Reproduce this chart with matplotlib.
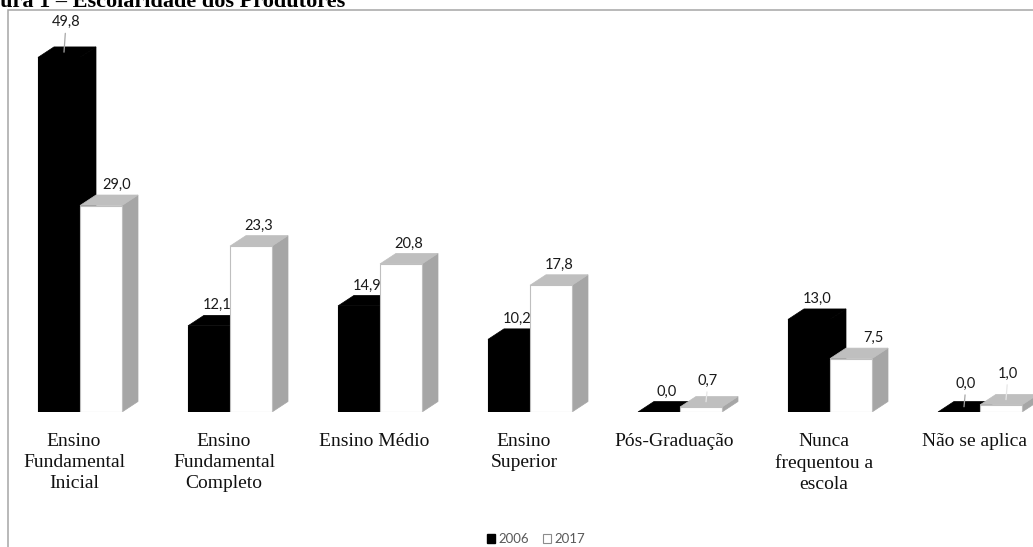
import matplotlib.pyplot as plt
from matplotlib.patches import Polygon, Rectangle, Patch
import numpy as np

categories = ["Ensino\nFundamental\nInicial", "Ensino\nFundamental\nCompleto", "Ensino Médio",
              "Ensino\nSuperior", "Pós-Graduação", "Nunca\nfrequentou a\nescola", "Não se aplica"]
values_2006 = [49.8, 12.1, 14.9, 10.2, 0.0, 13.0, 0.0]
values_2017 = [29.0, 23.3, 20.8, 17.8, 0.7, 7.5, 1.0]
series_names = ["2006", "2017"]

W, H = 1033, 547
fig = plt.figure(figsize=(W / 100, H / 100), dpi=100)

# axes mapped so one category = 150 px, 1 unit of value = 7.12 px
px_per_cat = 150.0
px_per_val = 7.12
base_px = 412  # baseline, from top
ax = fig.add_axes([0, (H - base_px) / H, 1, base_px / H])
ax.set_xlim(-80 / px_per_cat, (W - 80) / px_per_cat)
ax.set_ylim(0, base_px / px_per_val)
ax.axis("off")

w = 42 / px_per_cat          # bar width
dx = 16 / px_per_cat         # 3d depth offsets
dy = 10.5 / px_per_val
x = np.arange(len(categories))


def bar3d(xl, h, front, side, top, edge, z):
    ax.bar(xl, h, width=w, align="edge", color=front, edgecolor=edge, linewidth=0.8, zorder=z + 0.2)
    ax.add_patch(Polygon([(xl + w, 0), (xl + w + dx, dy), (xl + w + dx, h + dy), (xl + w, h)],
                         closed=True, facecolor=side, edgecolor=side, lw=0.5, zorder=z))
    ax.add_patch(Polygon([(xl, h), (xl + dx, h + dy), (xl + w + dx, h + dy), (xl + w, h)],
                         closed=True, facecolor=top, edgecolor=top, lw=0.5, zorder=z + 0.1))


for i in x:
    bar3d(i - w, values_2006[i], "black", "black", "black", "black", 2)
    bar3d(i, values_2017[i], "white", "#a6a6a6", "#bfbfbf", "#bfbfbf", 3)

# value labels (some have leader lines in the original, a couple sit a bit to the right)
lifted = {(0, 0): 15, (1, 4): 6, (0, 6): 8, (1, 6): 11}
nudged = {(1, 0): 8, (1, 5): 14}
for s, vals in enumerate([values_2006, values_2017]):
    for i, v in enumerate(vals):
        xl = i - w + s * w
        cx = xl + w / 2 + dx / 2
        lift = lifted.get((s, i), 0)
        txt = f"{v:.1f}".replace(".", ",")
        if lift:
            lc = "#a6a6a6" if s == 0 else "#e6e6e6"
            ax.annotate(txt, xy=(cx - 0.02, v + dy * 0.5),
                        xytext=(1.5, (lift + 5 + 3) * 0.72), textcoords="offset points",
                        ha="center", va="bottom", fontsize=10.5, family="Lato", color="#1a1a1a",
                        zorder=6, arrowprops=dict(arrowstyle="-", color=lc, lw=0.9, shrinkA=1, shrinkB=0))
        else:
            ax.annotate(txt, xy=(cx, v + dy), xytext=(nudged.get((s, i), 0) * 0.72, 3 * 0.72),
                        textcoords="offset points",
                        ha="center", va="bottom", fontsize=10.5, family="Lato", color="#1a1a1a",
                        zorder=6)

# category labels
for i, lab in enumerate(categories):
    ax.annotate(lab, xy=(i - 0.04, 0), xytext=(0, -15), textcoords="offset points",
                ha="center", va="top", fontsize=14, family="Liberation Serif",
                linespacing=1.3, color="#111111", annotation_clip=False)

# legend
handles = [Patch(facecolor="black", edgecolor="black"),
           Patch(facecolor="white", edgecolor="#8c8c8c", linewidth=0.8)]
leg = fig.legend(handles, series_names, loc="center", bbox_to_anchor=(536 / W, 8 / H), ncol=2,
                 frameon=False, handlelength=0.6, handleheight=0.6, handletextpad=0.3,
                 columnspacing=1.0, prop={"family": "Lato", "size": 9.5})
for t in leg.get_texts():
    t.set_color("#595959")

# chart frame (cut off at right and bottom in the original)
fig.add_artist(Rectangle((8 / W, -0.1), 1.2, (H - 10) / H + 0.1, transform=fig.transFigure,
                         fill=False, edgecolor="#a6a6a6", linewidth=1.1, clip_on=False))

# cut-off caption at the very top
fig.text(345 / W, 1 - 7 / H, "Figura 1 – Escolaridade dos Produtores", ha="right", va="baseline",
         fontsize=16, fontweight="bold", family="Liberation Serif")

fig.savefig("out.png", dpi=100)
